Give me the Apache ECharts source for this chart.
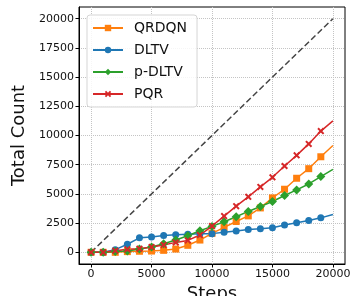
<!DOCTYPE html>
<html>
<head>
<meta charset="utf-8">
<script src="https://cdn.jsdelivr.net/npm/echarts@6/dist/echarts.min.js"></script>
<style>
  html, body { margin: 0; padding: 0; background: #fff; }
  #chart { width: 352px; height: 296px; }
</style>
</head>
<body>
<div id="chart"></div>
<script>
    // steps sampled every 1000
    var steps = [0, 1000, 2000, 3000, 4000, 5000, 6000, 7000, 8000, 9000, 10000,
                 11000, 12000, 13000, 14000, 15000, 16000, 17000, 18000, 19000, 20000];
    var qrdqn = [0, 0, 0, 60, 90, 110, 170, 280, 600, 1050, 1620,
                 2130, 2640, 3120, 3800, 4660, 5400, 6340, 7160, 8180, 9150];
    var dltv = [0, 0, 230, 690, 1240, 1320, 1440, 1500, 1550, 1600, 1600,
                1720, 1820, 1950, 2020, 2100, 2330, 2530, 2730, 2950, 3240];
    var pdltv = [0, 0, 60, 110, 280, 450, 740, 1050, 1420, 1850, 2220,
                 2620, 3040, 3500, 3920, 4350, 4860, 5340, 5850, 6480, 7100];
    var pqr = [0, 0, 140, 260, 310, 450, 630, 850, 1020, 1480, 2250,
               3100, 3950, 4750, 5600, 6420, 7390, 8300, 9280, 10380, 11250];
    var diagX = [0, 20000];
    var xTicks = [0, 5000, 10000, 15000, 20000];
    var yTicks = [0, 2500, 5000, 7500, 10000, 12500, 15000, 17500, 20000];

    var xSymbol = 'path://M0,2 L2,0 L5,3 L8,0 L10,2 L7,5 L10,8 L8,10 L5,7 L2,10 L0,8 L3,5 Z';

    function pairs(vals) {
        // last point has no marker in the reference
        return vals.map(function (v, i) {
            if (i == vals.length - 1) {
                return { value: [steps[i], v], symbol: 'none' };
            }
            return [steps[i], v];
        });
    }

    function lineSeries(name, vals, color, symbol, size) {
        return {
            name: name,
            type: 'line',
            data: pairs(vals),
            symbol: symbol,
            symbolSize: size,
            showAllSymbol: true,
            itemStyle: { color: color },
            lineStyle: { color: color, width: 1.5 },
            emphasis: { disabled: true },
            animation: false
        };
    }

    var chart = echarts.init(document.getElementById('chart'));
    var tickFont = { fontFamily: 'DejaVu Sans', fontSize: 11, color: '#111',
                     formatter: function (v) { return String(v); } };

    var option = {
        animation: false,
        grid: {
            left: 79, right: 7, top: 7, bottom: 32,
            containLabel: false, outerBoundsMode: 'none',
            show: true, borderColor: '#000', borderWidth: 1, backgroundColor: '#fff'
        },
        legend: {
            data: ['QRDQN', 'DLTV', 'p-DLTV', 'PQR'],
            orient: 'vertical',
            left: 87, top: 15,
            itemWidth: 30, itemHeight: 8, itemGap: 8,
            padding: [6, 10, 6, 5],
            backgroundColor: 'rgba(255,255,255,0.85)',
            borderColor: '#d5d5d5', borderWidth: 1, borderRadius: 3,
            textStyle: { fontFamily: 'DejaVu Sans', fontSize: 14, color: '#111', padding: [0, 0, 0, 6] }
        },
        xAxis: {
            type: 'value',
            min: -1000, max: 21000,
            name: 'Steps',
            nameLocation: 'middle',
            nameGap: 20,
            nameTextStyle: { fontFamily: 'DejaVu Sans', fontSize: 18, color: '#111' },
            axisLine: { onZero: false, lineStyle: { color: '#000' } },
            axisTick: { show: true, length: 3.5, customValues: xTicks, lineStyle: { color: '#000' } },
            axisLabel: Object.assign({ customValues: xTicks, margin: 5 }, tickFont),
            splitLine: { show: true, lineStyle: { color: '#c4c4c4', type: 'dotted', width: 1 } }
        },
        yAxis: {
            type: 'value',
            min: -1000, max: 21000,
            name: 'Total Count',
            nameLocation: 'middle',
            nameGap: 47,
            nameTextStyle: { fontFamily: 'DejaVu Sans', fontSize: 18, color: '#111' },
            axisLine: { show: true, onZero: false, lineStyle: { color: '#000' } },
            axisTick: { show: true, length: 3.5, customValues: yTicks, lineStyle: { color: '#000' } },
            axisLabel: Object.assign({ customValues: yTicks, margin: 5 }, tickFont),
            splitLine: { show: true, lineStyle: { color: '#c4c4c4', type: 'dotted', width: 1 } }
        },
        series: [
            {
                name: 'diag',
                type: 'line',
                data: diagX.map(function (v) { return [v, v]; }),
                symbol: 'none',
                lineStyle: { color: '#444', width: 1.5, type: [6, 3] },
                emphasis: { disabled: true },
                z: 1
            },
            lineSeries('QRDQN', qrdqn, '#ff7f0e', 'rect', 7),
            lineSeries('DLTV', dltv, '#1f77b4', 'circle', 7),
            lineSeries('p-DLTV', pdltv, '#2ca02c', 'diamond', 9),
            lineSeries('PQR', pqr, '#d62728', xSymbol, 7)
        ]
    };
    chart.setOption(option);
    window.addEventListener('resize', function () {
        chart.resize();
    });
</script>
</body>
</html>
